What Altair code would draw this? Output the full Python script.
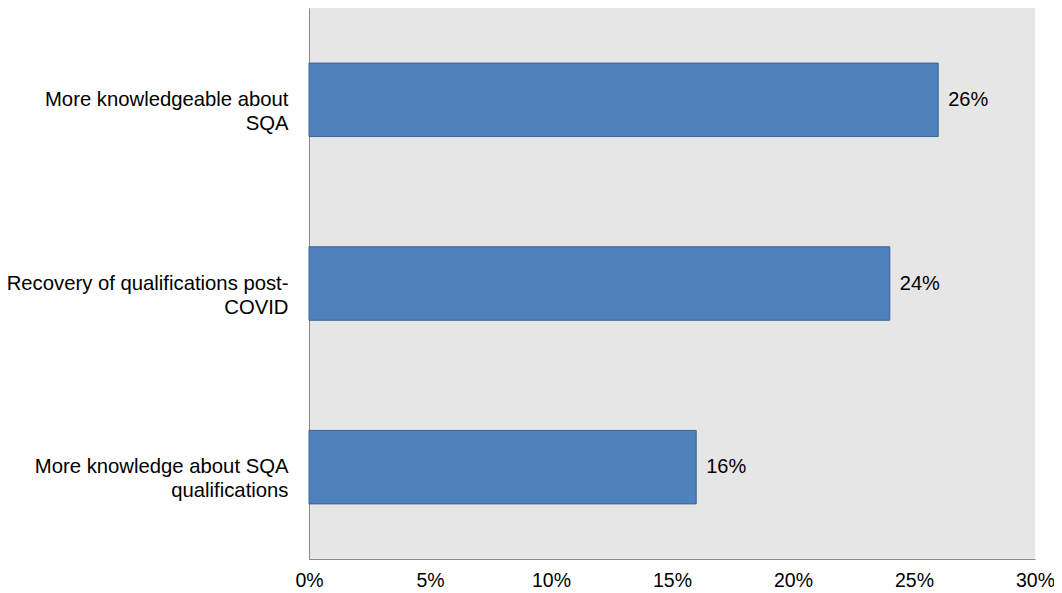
import altair as alt
import pandas as pd

categories = [
    "More knowledgeable about\nSQA",
    "Recovery of qualifications post-\nCOVID",
    "More knowledge about SQA\nqualifications",
]
values = [0.26, 0.24, 0.16]
x_ticks = [0, 0.05, 0.10, 0.15, 0.20, 0.25, 0.30]

df = pd.DataFrame({"category": categories, "value": values})

FONT = "Liberation Sans"

base = alt.Chart(df).encode(
    y=alt.Y(
        "category:N",
        sort=None,
        title=None,
        scale=alt.Scale(paddingInner=0.6, paddingOuter=0.3),
        axis=alt.Axis(
            labelExpr="split(datum.label, '\\n')",
            labelFont=FONT,
            labelFontSize=20.3,
            labelColor="#000000",
            labelLineHeight=24,
            labelPadding=21,
            labelLimit=400,
            ticks=False,
            domainColor="#898989",
            domainWidth=1,
            grid=False,
        ),
    ),
    x=alt.X(
        "value:Q",
        title=None,
        scale=alt.Scale(domain=[0, 0.30], nice=False),
        axis=alt.Axis(
            values=x_ticks,
            format=".0%",
            labelFont=FONT,
            labelFontSize=19.5,
            labelColor="#000000",
            labelPadding=12,
            ticks=False,
            domainColor="#898989",
            domainWidth=1,
            grid=False,
            labelFlush=False,
        ),
    ),
)

bars = base.mark_bar(color="#4F81BD", stroke="#3A6496", strokeWidth=1)
labels = base.mark_text(
    align="left", baseline="middle", dx=10, font=FONT, fontSize=20, color="#000000"
).encode(text=alt.Text("value:Q", format=".0%"))

chart = (
    (bars + labels)
    .properties(
        width=726,
        height=551,
        autosize=alt.AutoSizeParams(type="none"),
        padding={"left": 301, "top": 0, "right": 19, "bottom": 30},
    )
    .configure_view(fill="#E6E6E6", stroke=None)
)

chart.save("out.html", embed_options={"renderer": "svg", "actions": False})
